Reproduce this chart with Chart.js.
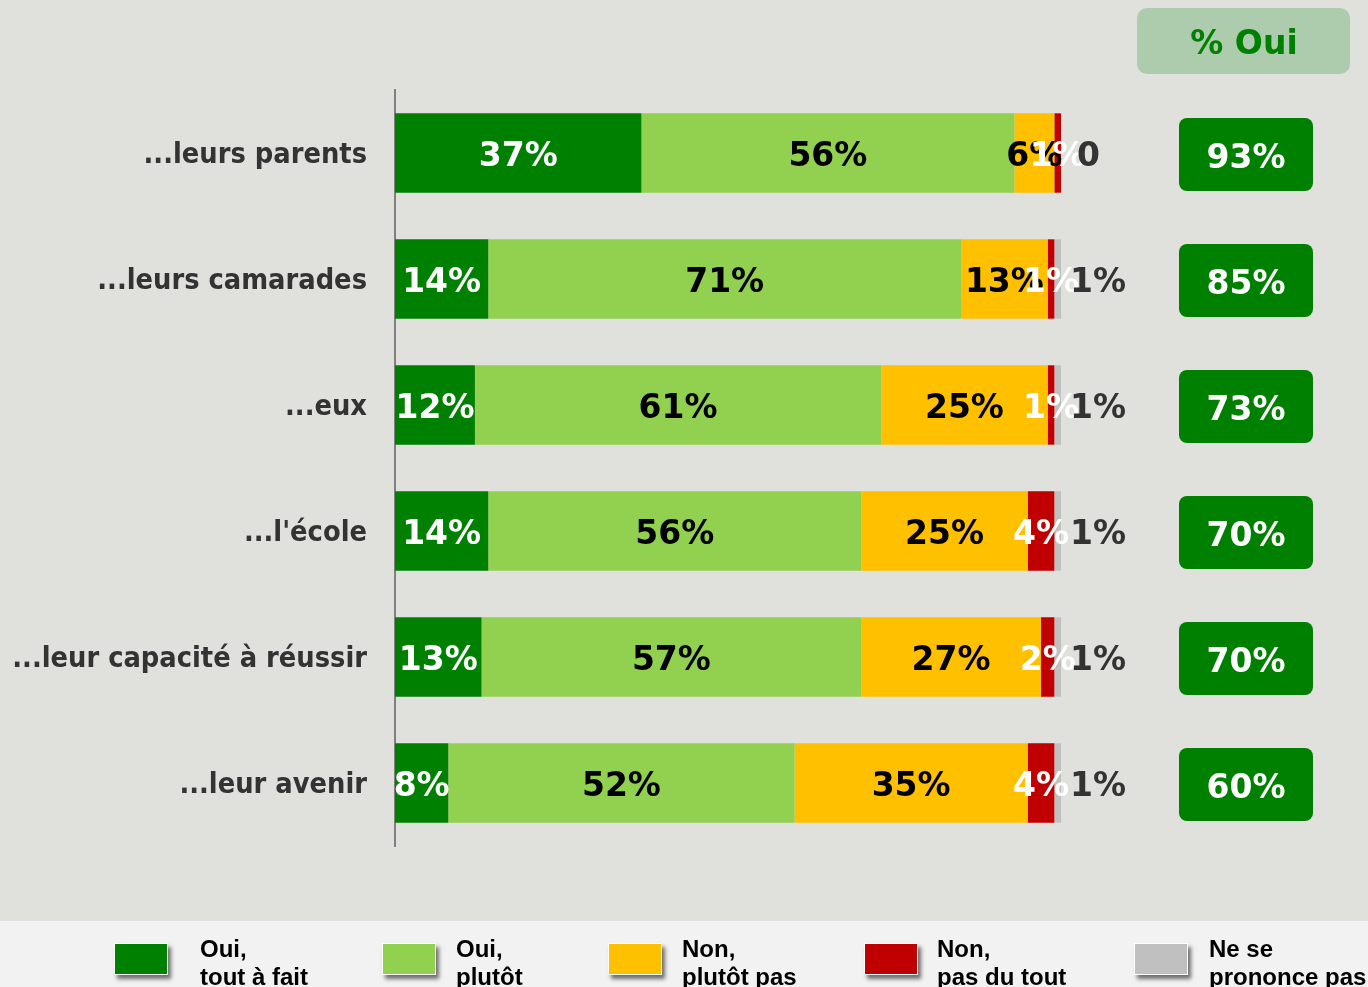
<!DOCTYPE html>
<html>
<head>
<meta charset="utf-8">
<script src="https://cdn.jsdelivr.net/npm/chart.js@4.4.1/dist/chart.umd.min.js"></script>
<style>
  html, body { margin: 0; padding: 0; background: #E0E0DC; }
  #wrap { width: 1368px; height: 987px; }
</style>
</head>
<body>
<div id="wrap"><canvas id="chart"></canvas></div>
<script>
// categories and series (percent)
const categories = ['...leurs parents', '...leurs camarades', '...eux', "...l'école", '...leur capacité à réussir', '...leur avenir'];
const ouiToutAFait = [37, 14, 12, 14, 13, 8];
const ouiPlutot = [56, 71, 61, 56, 57, 52];
const nonPlutotPas = [6, 13, 25, 25, 27, 35];
const nonPasDuTout = [1, 1, 1, 4, 2, 4];
const nsp = [0, 1, 1, 1, 1, 1];
const seriesNames = [['Oui,', 'tout à fait'], ['Oui,', 'plutôt'], ['Non,', 'plutôt pas'], ['Non,', 'pas du tout'], ['Ne se', 'prononce pas']];
const pctOui = ouiToutAFait.map((v, i) => v + ouiPlutot[i]);

const colors = ['#008000', '#92D050', '#FFC000', '#C00000', '#C0C0C0'];
const labelColors = ['#ffffff', '#000000', '#000000', '#ffffff', '#333333'];
const bigFont = 'bold 33px "DejaVu Sans"';

function roundRect(ctx, x, y, w, h, r) {
    ctx.beginPath();
    ctx.moveTo(x + r, y);
    ctx.arcTo(x + w, y, x + w, y + h, r);
    ctx.arcTo(x + w, y + h, x, y + h, r);
    ctx.arcTo(x, y + h, x, y, r);
    ctx.arcTo(x, y, x + w, y, r);
    ctx.closePath();
}

// background + legend strip
const backdrop = {
    id: 'backdrop',
    beforeDraw(chart) {
        const ctx = chart.ctx;
        ctx.save();
        ctx.fillStyle = '#E0E0DC';
        ctx.fillRect(0, 0, chart.width, chart.height);
        ctx.fillStyle = '#F2F2F2';
        ctx.fillRect(0, 921, chart.width, chart.height - 921);
        ctx.restore();
    }
};

// value labels on the bars
const barLabels = {
    id: 'barLabels',
    afterDatasetsDraw(chart) {
        const ctx = chart.ctx;
        ctx.save();
        ctx.font = bigFont;
        ctx.textBaseline = 'middle';
        chart.data.datasets.forEach((ds, di) => {
            const meta = chart.getDatasetMeta(di);
            meta.data.forEach((bar, i) => {
                const v = ds.data[i];
                const txt = v === 0 ? '0' : v + '%';
                ctx.fillStyle = labelColors[di];
                if (di === 4) {
                    ctx.textAlign = 'left';
                    ctx.fillText(txt, bar.x + (v === 0 ? 16 : 9), bar.y + 4);
                } else {
                    ctx.textAlign = 'center';
                    ctx.fillText(txt, (bar.x + bar.base) / 2, bar.y + 4);
                }
            });
        });
        ctx.restore();
    }
};

// "% Oui" column
const ouiColumn = {
    id: 'ouiColumn',
    afterDraw(chart) {
        const ctx = chart.ctx;
        const yScale = chart.scales.y;
        ctx.save();
        ctx.fillStyle = '#ADCBAD';
        roundRect(ctx, 1137, 8, 213, 66, 10);
        ctx.fill();
        ctx.font = bigFont;
        ctx.textAlign = 'center';
        ctx.textBaseline = 'middle';
        ctx.fillStyle = '#008000';
        ctx.fillText('% Oui', 1244, 45);
        pctOui.forEach((v, i) => {
            const cy = yScale.getPixelForValue(i) + 1;
            ctx.fillStyle = '#008000';
            roundRect(ctx, 1179, cy - 36, 134, 73, 8);
            ctx.fill();
            ctx.fillStyle = '#ffffff';
            ctx.fillText(v + '%', 1246, cy + 5);
        });
        ctx.restore();
    }
};

// bottom legend with shadowed swatches
const bottomLegend = {
    id: 'bottomLegend',
    afterDraw(chart) {
        const ctx = chart.ctx;
        const swatchX = [115, 383, 609, 865, 1135];
        const textX = [200, 456, 682, 937, 1209];
        ctx.save();
        seriesNames.forEach((lines, i) => {
            ctx.save();
            ctx.shadowColor = 'rgba(0,0,0,0.55)';
            ctx.shadowBlur = 4;
            ctx.shadowOffsetX = 3;
            ctx.shadowOffsetY = 4;
            ctx.fillStyle = '#ffffff';
            ctx.fillRect(swatchX[i] - 1, 943, 54, 32);
            ctx.restore();
            ctx.fillStyle = colors[i];
            ctx.fillRect(swatchX[i], 944, 52, 30);
            ctx.fillStyle = '#000000';
            ctx.font = 'bold 24px "Liberation Sans"';
            ctx.textAlign = 'left';
            ctx.textBaseline = 'alphabetic';
            ctx.fillText(lines[0], textX[i], 957);
            ctx.fillText(lines[1], textX[i], 985);
        });
        ctx.restore();
    }
};

const seriesData = [ouiToutAFait, ouiPlutot, nonPlutotPas, nonPasDuTout, nsp];

new Chart(document.getElementById('chart'), {
    type: 'bar',
    data: {
        labels: categories,
        datasets: seriesData.map((d, i) => ({
            label: seriesNames[i].join(' '),
            data: d,
            backgroundColor: colors[i],
            borderWidth: 0,
            barPercentage: 0.63,
            categoryPercentage: 1
        }))
    },
    options: {
        indexAxis: 'y',
        responsive: true,
        maintainAspectRatio: false,
        animation: false,
        devicePixelRatio: 1,
        layout: { padding: { top: 90, bottom: 141, left: 0, right: 307 } },
        scales: {
            x: {
                stacked: true,
                min: 0,
                max: 100,
                display: false
            },
            y: {
                stacked: true,
                afterFit(scale) { scale.width = 395; },
                grid: { display: false },
                border: { display: true, color: '#808080', width: 2 },
                ticks: {
                    color: '#333333',
                    padding: 20,
                    labelOffset: 3,
                    font: { family: '"DejaVu Sans Condensed", "DejaVu Sans"', weight: 'bold', size: 28.7 }
                }
            }
        },
        plugins: {
            legend: { display: false },
            tooltip: { enabled: false }
        }
    },
    plugins: [backdrop, barLabels, ouiColumn, bottomLegend]
});
</script>
</body>
</html>
